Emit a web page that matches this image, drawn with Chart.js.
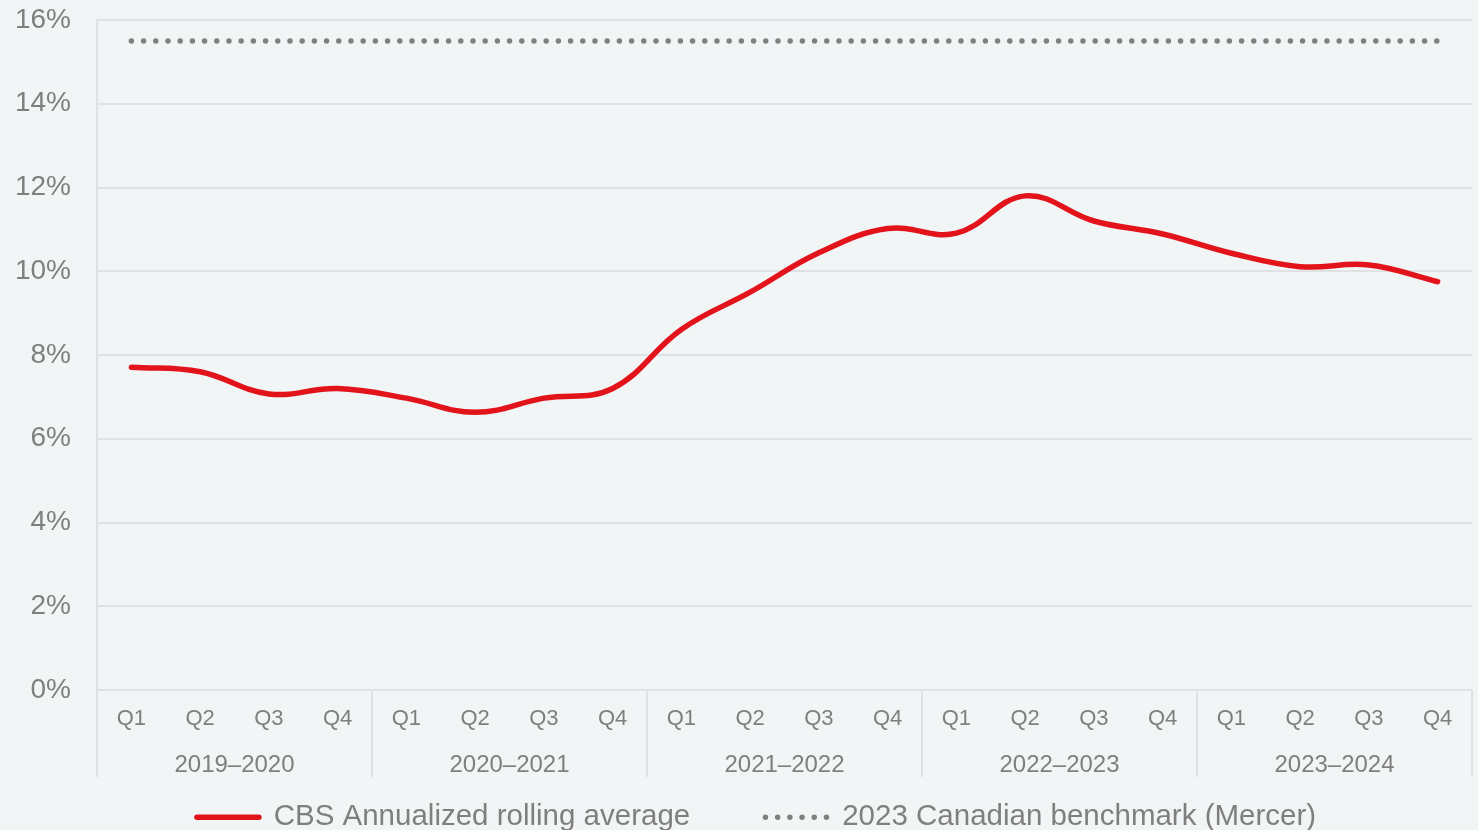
<!DOCTYPE html>
<html>
<head>
<meta charset="utf-8">
<script src="https://cdn.jsdelivr.net/npm/chart.js@4/dist/chart.umd.min.js"></script>
<style>
  html, body { margin: 0; padding: 0; background: #f2f5f6; }
  #wrap { width: 1478px; height: 830px; position: relative; }
</style>
</head>
<body>
<div id="wrap"><canvas id="c" width="1478" height="830"></canvas></div>
<script>
const quarters = ["Q1","Q2","Q3","Q4","Q1","Q2","Q3","Q4","Q1","Q2","Q3","Q4","Q1","Q2","Q3","Q4","Q1","Q2","Q3","Q4"];
const fiscalYears = ["2019–2020","2020–2021","2021–2022","2022–2023","2023–2024"];
const cbsRolling = [7.71, 7.60, 7.07, 7.20, 6.97, 6.63, 6.97, 7.20, 8.61, 9.50, 10.44, 11.02, 10.91, 11.80, 11.20, 10.89, 10.43, 10.11, 10.15, 9.75];
const benchmark = [15.5, 15.5, 15.5, 15.5, 15.5, 15.5, 15.5, 15.5, 15.5, 15.5, 15.5, 15.5, 15.5, 15.5, 15.5, 15.5, 15.5, 15.5, 15.5, 15.5];
const yTicks = [0, 2, 4, 6, 8, 10, 12, 14, 16];
const seriesNames = ["CBS Annualized rolling average", "2023 Canadian benchmark (Mercer)"];
const quartersPerYear = 4;

const TEXT = '#7f7f7f';
const GRID = '#dfe1e2';
const FONT = "'Liberation Sans', Arial, sans-serif";

// small layout nudge so the legend sits where it does in the reference
const legendNudge = {
  id: 'legendNudge',
  afterLayout(chart, args, opts) {
    const lg = chart.legend;
    if (lg && opts && opts.dx) { lg.left += opts.dx; lg.right += opts.dx; }
  }
};

new Chart(document.getElementById('c'), {
  type: 'line',
  plugins: [legendNudge],
  data: {
    labels: quarters,
    datasets: [
      {
        label: seriesNames[0],
        data: cbsRolling,
        borderColor: '#e3131b',
        backgroundColor: '#e3131b',
        borderWidth: 5.5,
        borderCapStyle: 'round',
        borderJoinStyle: 'round',
        tension: 0.4,
        pointRadius: 0,
        pointStyle: 'line',
        xAxisID: 'x'
      },
      {
        label: seriesNames[1],
        data: benchmark,
        borderColor: '#808080',
        backgroundColor: '#808080',
        borderWidth: 5.5,
        borderDash: [0, 12.2],
        borderCapStyle: 'round',
        pointRadius: 0,
        pointStyle: 'line',
        xAxisID: 'x'
      }
    ]
  },
  options: {
    responsive: false,
    animation: false,
    devicePixelRatio: 1,
    layout: { padding: { top: 0, right: 6, bottom: -12, left: 13 } },
    scales: {
      x: {
        type: 'category',
        position: 'bottom',
        offset: true,
        weight: 0,
        grid: {
          display: true,
          offset: true,
          drawOnChartArea: false,
          drawTicks: true,
          tickLength: 87,
          lineWidth: 2,
          color: (c) => (c.index === undefined || c.index % quartersPerYear === 0) ? GRID : 'rgba(0,0,0,0)'
        },
        border: { display: false },
        ticks: {
          color: TEXT,
          font: { family: FONT, size: 22 },
          padding: -71.2,
          maxRotation: 0,
          autoSkip: false
        },
        afterFit: (s) => { s.height = 45; }
      },
      x2: {
        type: 'category',
        position: 'bottom',
        labels: fiscalYears,
        offset: true,
        weight: 1,
        grid: { display: false },
        border: { display: false },
        ticks: {
          color: TEXT,
          font: { family: FONT, size: 24 },
          padding: 7.6,
          maxRotation: 0,
          autoSkip: false
        },
        afterFit: (s) => { s.height = 48.25; }
      },
      y: {
        min: 0,
        max: 16,
        afterBuildTicks: (s) => { s.ticks = yTicks.map(v => ({ value: v })); },
        grid: { color: GRID, lineWidth: 2, drawTicks: true, tickLength: 20, tickColor: 'rgba(0,0,0,0)' },
        border: { display: true, color: GRID, width: 2 },
        ticks: {
          color: TEXT,
          font: { family: FONT, size: 28, lineHeight: 1 },
          padding: 6,
          callback: (v) => v + '%'
        },
        afterFit: (s) => { s.width = 84; }
      }
    },
    plugins: {
      legendNudge: { dx: 14 },
      legend: {
        position: 'bottom',
        title: { display: true, text: '', font: { size: 10 }, padding: -34 },
        labels: {
          color: TEXT,
          font: { family: FONT, size: 29.5 },
          usePointStyle: true,
          pointStyleWidth: 62,
          padding: 75.25,
          generateLabels: (chart) => {
            const items = Chart.defaults.plugins.legend.labels.generateLabels(chart);
            items.forEach((it) => {
              const ds = chart.data.datasets[it.datasetIndex];
              it.lineDash = ds.borderDash || [];
              it.lineCap = ds.borderCapStyle || 'butt';
              it.lineWidth = ds.borderWidth;
              it.strokeStyle = ds.borderColor;
              it.fillStyle = ds.borderColor;
            });
            return items;
          }
        }
      },
      tooltip: { enabled: false }
    }
  }
});
</script>
</body>
</html>
